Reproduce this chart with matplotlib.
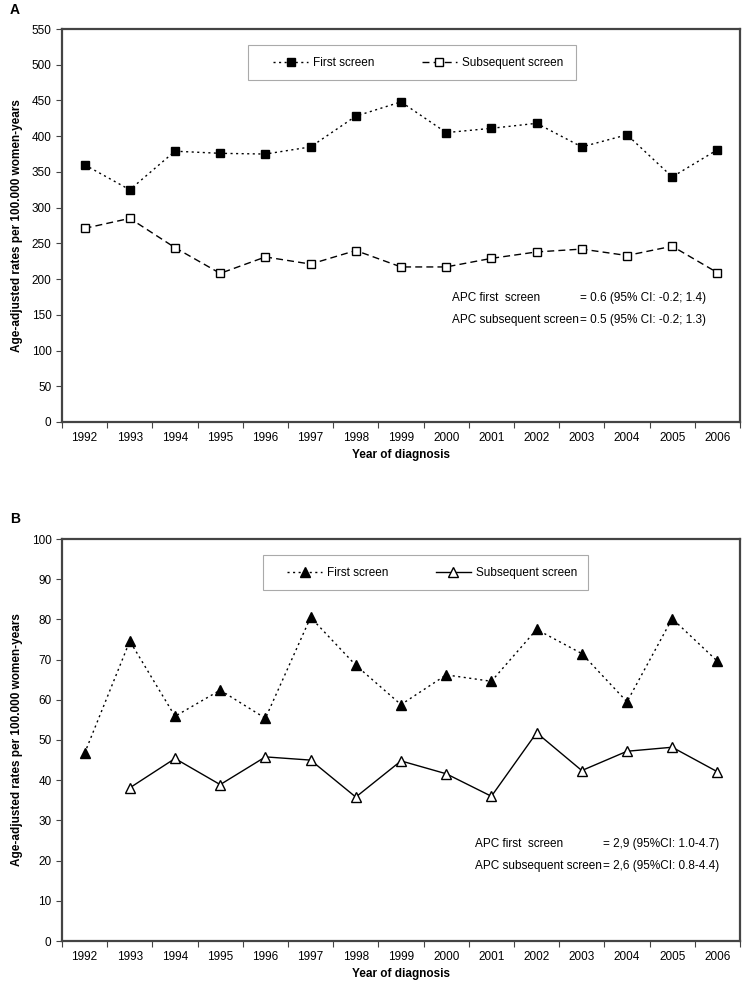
import numpy as np
import matplotlib.pyplot as plt
from matplotlib.patches import Rectangle

plt.rcParams['font.family'] = ['Liberation Sans', 'DejaVu Sans']

years = list(range(1992, 2007))

# Panel A
first_a = [360, 325, 379, 376, 375, 385, 428, 448, 405, 411, 418, 385, 402, 343, 381]
subseq_a = [271, 285, 244, 208, 231, 221, 240, 217, 217, 229, 238, 242, 233, 246, 209]

# Panel B (no subsequent screen value in 1992)
first_b = [46.7, 74.6, 55.9, 62.4, 55.4, 80.5, 68.6, 58.8, 66.2, 64.6, 77.5, 71.5, 59.5, 80.2, 69.6]
subseq_b = [np.nan, 38.1, 45.4, 38.9, 45.8, 45.0, 35.8, 44.8, 41.6, 36.0, 51.8, 42.4, 47.2, 48.2, 42.1]

apc_a = ['APC first  screen', 'APC subsequent screen']
apc_a_vals = ['= 0.6 (95% CI: -0.2; 1.4)', '= 0.5 (95% CI: -0.2; 1.3)']
apc_b = ['APC first  screen', 'APC subsequent screen']
apc_b_vals = ['= 2,9 (95%CI: 1.0-4.7)', '= 2,6 (95%CI: 0.8-4.4)']

W, H = 751, 981
fig = plt.figure(figsize=(W / 100, H / 100), dpi=100)


def px_axes(x0, y0, x1, y1):
    return fig.add_axes([x0 / W, 1 - y1 / H, (x1 - x0) / W, (y1 - y0) / H])


def legend_box(x0, y0, x1, y1):
    fig.patches.append(Rectangle((x0 / W, 1 - y1 / H), (x1 - x0) / W, (y1 - y0) / H,
                                 transform=fig.transFigure, fill=False,
                                 edgecolor='#aaaaaa', linewidth=0.8))


def style_axis(ax, ymax, ystep):
    ax.set_xlim(1991.5, 2006.5)
    ax.set_ylim(0, ymax)
    ax.set_yticks(np.arange(0, ymax + 1e-9, ystep))
    ax.set_yticklabels([f'{v:g}' for v in np.arange(0, ymax + 1e-9, ystep)])
    ax.set_xticks(years)
    ax.set_xticklabels([str(y) for y in years])
    ax.set_xticks(np.arange(1991.5, 2007, 1), minor=True)
    ax.tick_params(axis='x', which='major', length=0, pad=7, labelsize=8.5)
    ax.tick_params(axis='x', which='minor', length=4, width=0.8, direction='out', color='#444444')
    ax.tick_params(axis='y', length=4, width=0.8, direction='out', labelsize=8.5, color='#444444')
    for sp in ax.spines.values():
        sp.set_linewidth(1.6)
        sp.set_color('#444444')
    ax.set_xlabel('Year of diagnosis', fontweight='bold', fontsize=8.5, labelpad=4)
    ax.set_ylabel('Age-adjusted rates per 100.000 women-years', fontweight='bold', fontsize=8.5, labelpad=6)


def add_legend(ax, x, y):
    ax.legend(loc='center left', bbox_to_anchor=(x / W, 1 - y / H), bbox_transform=fig.transFigure,
              ncol=2, frameon=False, fontsize=8.5, handlelength=3.0, handletextpad=0.4,
              columnspacing=4.0, borderpad=0, borderaxespad=0)


# ---- Panel A ----
axA = px_axes(62, 29, 740, 422)
axA.plot(years, first_a, linestyle=(0, (1.5, 2.5)), color='black', linewidth=1,
         marker='s', markersize=6, markerfacecolor='black', markeredgecolor='black',
         label='First screen')
axA.plot(years, subseq_a, linestyle=(0, (5, 3)), color='black', linewidth=1,
         marker='s', markersize=6, markerfacecolor='white', markeredgecolor='black',
         label='Subsequent screen')
style_axis(axA, 550, 50)
legend_box(248, 45, 576, 80)
add_legend(axA, 273, 63)
for i, (a, b) in enumerate(zip(apc_a, apc_a_vals)):
    y = 298 + i * 22
    fig.text(452 / W, 1 - y / H, a, fontsize=8.5, va='center')
    fig.text(580 / W, 1 - y / H, b, fontsize=8.5, va='center')

# ---- Panel B ----
axB = px_axes(62, 539, 740, 941)
axB.plot(years, first_b, linestyle=(0, (1.5, 2.5)), color='black', linewidth=1,
         marker='^', markersize=6.5, markerfacecolor='black', markeredgecolor='black',
         label='First screen')
axB.plot(years, subseq_b, linestyle='-', color='black', linewidth=1,
         marker='^', markersize=6.5, markerfacecolor='white', markeredgecolor='black',
         label='Subsequent screen')
style_axis(axB, 100, 10)
legend_box(263, 555, 588, 590)
add_legend(axB, 287, 573)
for i, (a, b) in enumerate(zip(apc_b, apc_b_vals)):
    y = 844 + i * 22
    fig.text(475 / W, 1 - y / H, a, fontsize=8.5, va='center')
    fig.text(603 / W, 1 - y / H, b, fontsize=8.5, va='center')

fig.text(10 / W, 1 - 10 / H, 'A', fontsize=10, fontweight='bold', va='center')
fig.text(10 / W, 1 - 519 / H, 'B', fontsize=10, fontweight='bold', va='center')

plt.savefig('out.png', dpi=100)
